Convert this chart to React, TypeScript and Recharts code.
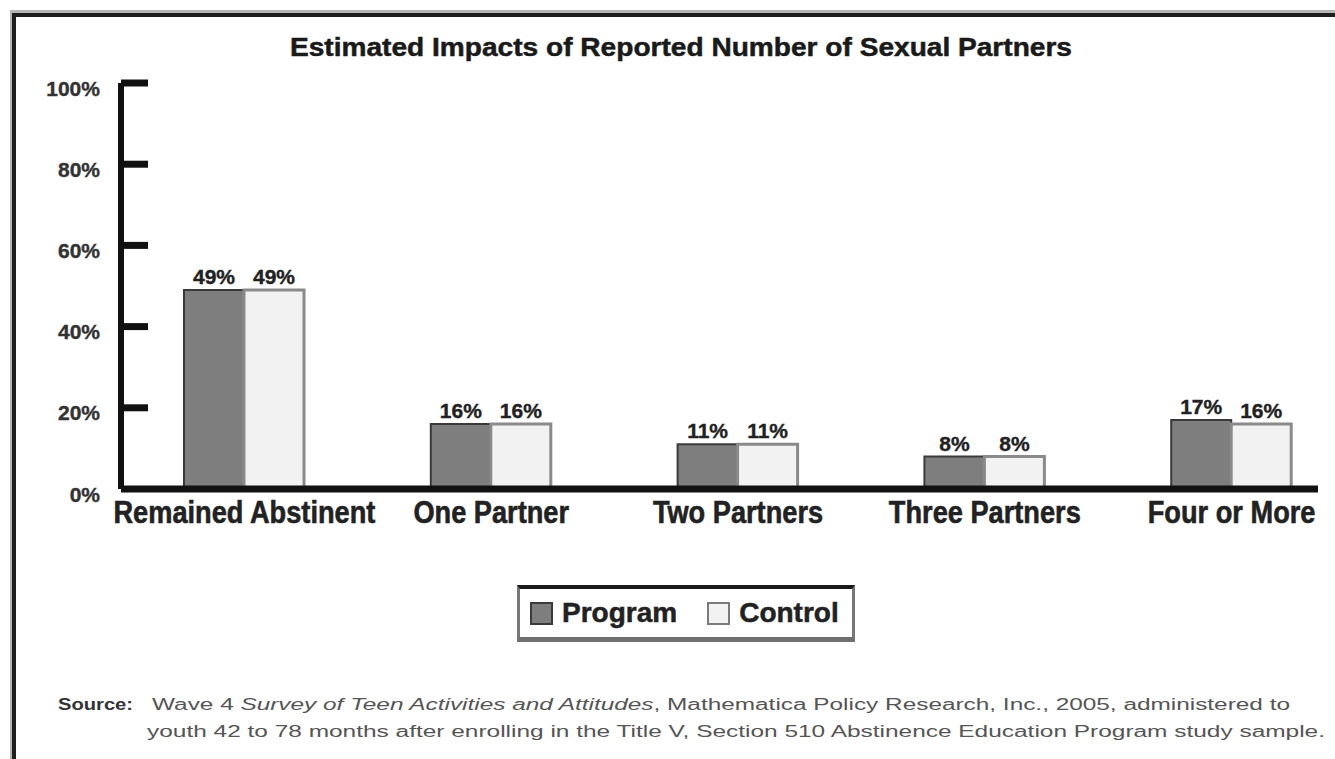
import React from "react"
import { BarChart, Bar, XAxis, YAxis, LabelList } from "recharts"

const categories = ["Remained Abstinent", "One Partner", "Two Partners", "Three Partners", "Four or More"]
const programValues = [49, 16, 11, 8, 17]
const controlValues = [49, 16, 11, 8, 16]
const yTicks = [0, 20, 40, 60, 80, 100]
const seriesNames = ["Program", "Control"]

const title = "Estimated Impacts of Reported Number of Sexual Partners"
const sourceLabel = "Source:"
const sourceLine1 = ["Wave 4 ", "Survey of Teen Activities and Attitudes", ", Mathematica Policy Research, Inc., 2005, administered to"]
const sourceLine2 = "youth 42 to 78 months after enrolling in the Title V, Section 510 Abstinence Education Program study sample."

const FONT = "'Liberation Sans', Arial, sans-serif"
const PROGRAM_FILL = "#7e7e7e"
const CONTROL_FILL = "#f2f2f2"

const data = categories.map((category, i) => ({
  category,
  program: programValues[i],
  control: controlValues[i],
}))

function YTick(props: any) {
  const { x, y, payload } = props
  return (
    <g>
      {payload.value > 0 && (
        <line x1={x} y1={y} x2={x + 27} y2={y} stroke="#111" strokeWidth={7} />
      )}
      <text
        x={x - 21}
        y={y + 5}
        textAnchor="end"
        dominantBaseline="central"
        fontFamily={FONT}
        fontWeight={700}
        fontSize={21}
        fill="#333"
        stroke="#333"
        strokeWidth={0.4}
      >
        {payload.value}%
      </text>
    </g>
  )
}

function XTick(props: any) {
  const { x, y, payload } = props
  return (
    <g transform={`translate(${x},${y}) scale(0.85,1)`}>
      <text
        x={0}
        y={34}
        textAnchor="middle"
        fontFamily={FONT}
        fontWeight={700}
        fontSize={32}
        fill="#222"
        stroke="#222"
        strokeWidth={0.6}
      >
        {payload.value}
      </text>
    </g>
  )
}

const pct = (v: any) => `${v}%`

export default function App() {
  return (
    <div
      style={{
        position: "absolute",
        left: 0,
        top: 0,
        width: 1335,
        height: 759,
        overflow: "hidden",
        background: "#fff",
      }}
    >
      {/* frame */}
      <div
        style={{
          position: "absolute",
          left: 12,
          top: 13,
          width: 1500,
          height: 900,
          borderLeft: "4px solid #1e1e1e",
          borderTop: "4px solid #1e1e1e",
          boxShadow: "-2px -3px 0 #b5b5b5",
        }}
      />

      <div style={{ position: "absolute", left: 0, top: 0 }}>
        <BarChart
          width={1320}
          height={759}
          data={data}
          margin={{ top: 83, right: 2, left: 0, bottom: 230 }}
          barGap={0}
          barSize={60}
        >
          <XAxis
            dataKey="category"
            height={40}
            tickLine={false}
            tickSize={0}
            tickMargin={0}
            axisLine={{ stroke: "#111", strokeWidth: 7 }}
            padding={{ left: 0, right: -37 }}
            tick={<XTick />}
            interval={0}
          />
          <YAxis
            width={121}
            domain={[0, 100]}
            ticks={yTicks}
            tickSize={0}
            tickMargin={0}
            tickLine={false}
            axisLine={{ stroke: "#111", strokeWidth: 6 }}
            tick={<YTick />}
            interval={0}
          />
          <Bar dataKey="program" name={seriesNames[0]} fill={PROGRAM_FILL} stroke="#3a3a3a" strokeWidth={2} isAnimationActive={false}>
            <LabelList dataKey="program" position="top" offset={6} formatter={pct} fill="#222" stroke="#222" strokeWidth={0.4} fontSize={21} fontWeight={700} fontFamily={FONT} />
          </Bar>
          <Bar dataKey="control" name={seriesNames[1]} fill={CONTROL_FILL} stroke="#8a8a8a" strokeWidth={3} isAnimationActive={false}>
            <LabelList dataKey="control" position="top" offset={6} formatter={pct} fill="#222" stroke="#222" strokeWidth={0.4} fontSize={21} fontWeight={700} fontFamily={FONT} />
          </Bar>
        </BarChart>
      </div>

      {/* title and source note */}
      <svg width={1335} height={759} style={{ position: "absolute", left: 0, top: 0, pointerEvents: "none" }}>
        <text
          x={681}
          y={56}
          textAnchor="middle"
          textLength={782}
          lengthAdjust="spacingAndGlyphs"
          fontFamily={FONT}
          fontWeight={700}
          fontSize={26}
          fill="#1a1a1a"
          stroke="#1a1a1a"
          strokeWidth={0.5}
        >
          {title}
        </text>
        <text x={58} y={710} textLength={75} lengthAdjust="spacingAndGlyphs" fontFamily={FONT} fontWeight={700} fontSize={16} fill="#333">
          {sourceLabel}
        </text>
        <text x={152} y={710} textLength={1138} lengthAdjust="spacingAndGlyphs" fontFamily={FONT} fontSize={16} fill="#555">
          <tspan>{sourceLine1[0]}</tspan>
          <tspan fontStyle="italic">{sourceLine1[1]}</tspan>
          <tspan>{sourceLine1[2]}</tspan>
        </text>
        <text x={147} y={737} textLength={1178} lengthAdjust="spacingAndGlyphs" fontFamily={FONT} fontSize={16} fill="#555">
          {sourceLine2}
        </text>
      </svg>

      {/* legend */}
      <div
        style={{
          position: "absolute",
          left: 517,
          top: 585,
          width: 338,
          height: 57,
          boxSizing: "border-box",
          borderTop: "4px solid #1a1a1a",
          borderLeft: "3px solid #777",
          borderRight: "3px solid #777",
          borderBottom: "5px solid #6f6f6f",
          display: "flex",
          alignItems: "center",
          paddingLeft: 10,
          fontFamily: FONT,
          fontWeight: 700,
          fontSize: 28,
          color: "#222",
          WebkitTextStroke: "0.5px #222",
        }}
      >
        {seriesNames.map((name, i) => (
          <div key={name} style={{ display: "flex", alignItems: "center", marginRight: i === 0 ? 30 : 0 }}>
            <div
              style={{
                width: 23,
                height: 23,
                boxSizing: "border-box",
                background: i === 0 ? PROGRAM_FILL : CONTROL_FILL,
                border: i === 0 ? "2px solid #3a3a3a" : "2px solid #7a7a7a",
                marginRight: 9,
              }}
            />
            <span style={{ lineHeight: 1 }}>{name}</span>
          </div>
        ))}
      </div>
    </div>
  )
}
